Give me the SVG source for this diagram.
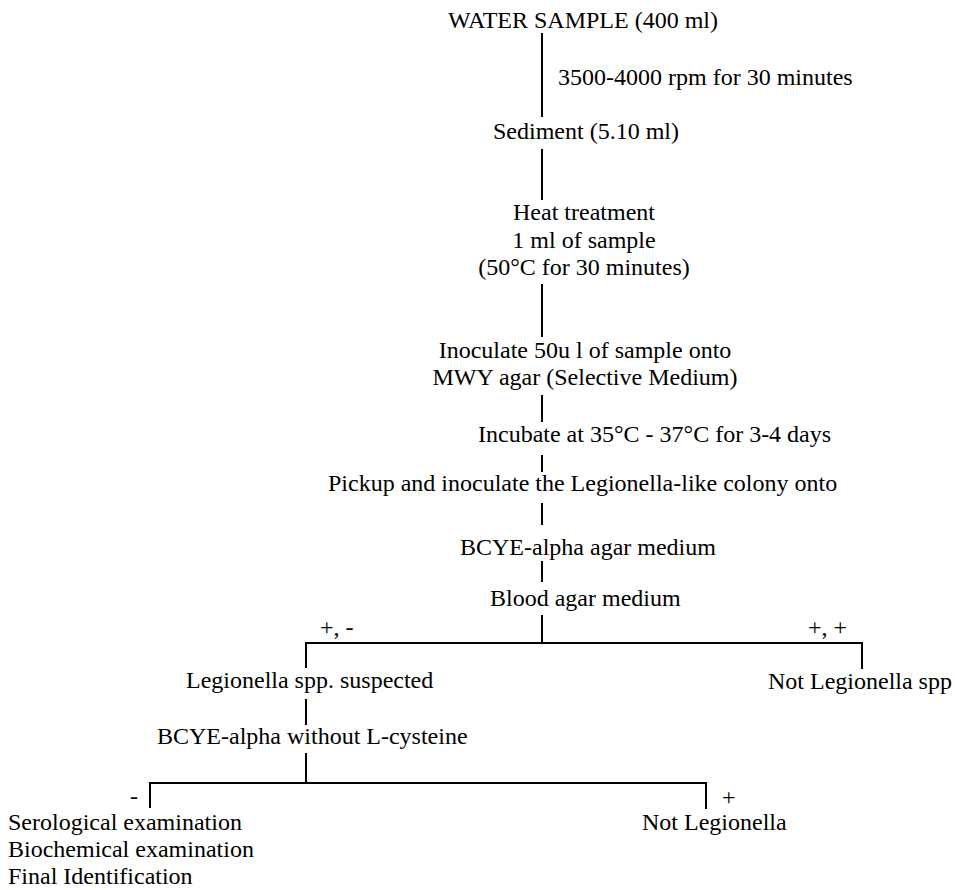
<svg xmlns="http://www.w3.org/2000/svg" width="955" height="890" viewBox="0 0 955 890">
<style>
text{font-size:24px;fill:#000}
.c line,.c polyline{stroke:#000;stroke-width:2;fill:none}
</style>
<rect width="955" height="890" fill="#fff"/>
<g class="c" id="connectors">
<line x1="542" y1="33" x2="542" y2="117"/>
<line x1="542" y1="149" x2="542" y2="200"/>
<line x1="542" y1="284" x2="542" y2="337"/>
<line x1="542" y1="395" x2="542" y2="422"/>
<line x1="542" y1="455" x2="542" y2="472"/>
<line x1="542" y1="503" x2="542" y2="525"/>
<line x1="542" y1="561" x2="542" y2="582"/>
<line x1="542" y1="615" x2="542" y2="643"/>
<polyline points="306,668 306,643 862,643 862,669"/>
<line x1="306" y1="699" x2="306" y2="725"/>
<line x1="306" y1="753" x2="306" y2="783"/>
<polyline points="150,808 150,783 706,783 706,809"/>
</g>
<g font-family="Liberation Serif, Times New Roman, serif">
<g id="water"><text x="448" y="28">WATER SAMPLE (400 ml)</text></g>
<g id="centrifuge"><text x="558" y="85">3500-4000 rpm for 30 minutes</text></g>
<g id="sediment"><text x="493" y="139">Sediment (5.10 ml)</text></g>
<g id="heat"><text x="584" y="220" text-anchor="middle">Heat treatment</text><text x="584" y="248" text-anchor="middle">1 ml of sample</text><text x="584" y="275" text-anchor="middle">(50°C for 30 minutes)</text></g>
<g id="inoculate"><text x="585" y="358" text-anchor="middle">Inoculate 50u l of sample onto</text><text x="585" y="385" text-anchor="middle">MWY agar (Selective Medium)</text></g>
<g id="incubate"><text x="478" y="442">Incubate at 35°C - 37°C for 3-4 days</text></g>
<g id="pickup"><text x="328" y="491">Pickup and inoculate the Legionella-like colony onto</text></g>
<g id="bcye"><text x="460" y="555">BCYE-alpha agar medium</text></g>
<g id="blood"><text x="490" y="606">Blood agar medium</text></g>
<g id="label-pm"><text x="320" y="635">+, -</text></g>
<g id="label-pp"><text x="808" y="635">+, +</text></g>
<g id="suspected"><text x="186" y="688">Legionella spp. suspected</text></g>
<g id="notspp"><text x="768" y="689">Not Legionella spp</text></g>
<g id="bcye-nocys"><text x="157" y="744">BCYE-alpha without L-cysteine</text></g>
<g id="label-minus"><text x="130" y="804">-</text></g>
<g id="label-plus"><text x="722" y="805">+</text></g>
<g id="final"><text x="8" y="830">Serological examination</text><text x="8" y="857">Biochemical examination</text><text x="8" y="884">Final Identification</text></g>
<g id="notleg"><text x="642" y="830">Not Legionella</text></g>
</g>
</svg>
